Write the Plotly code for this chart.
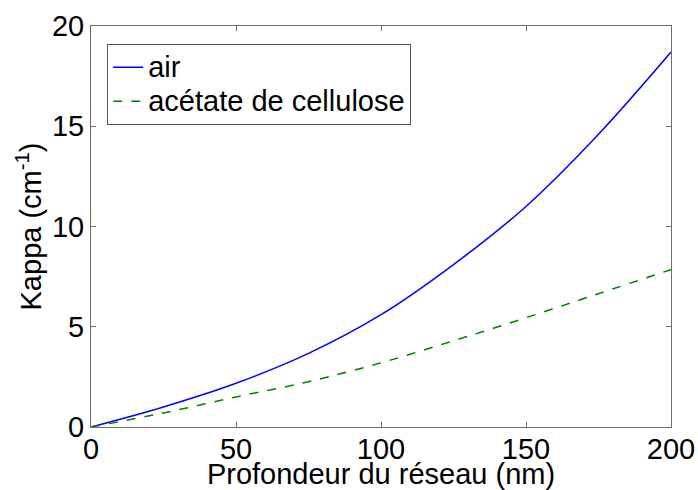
import plotly.graph_objects as go

# Grating depth (nm) and coupling coefficient kappa (cm^-1)
depth_nm = [0, 25, 50, 75, 100, 125, 150, 175, 200]
kappa_air = [0.0, 1.0, 2.18, 3.67, 5.6, 8.1, 11.0, 14.6, 18.7]
kappa_acetate = [0.0, 0.7, 1.5, 2.26, 3.2, 4.3, 5.45, 6.65, 7.85]

series_names = ["air", "acétate de cellulose"]
x_ticks = [0, 50, 100, 150, 200]
y_ticks = [0, 5, 10, 15, 20]

FONT = "Liberation Sans, Arial, sans-serif"


def legend_label(name):
    # bigger glyphs than the legend font so the rows stay tight like the original
    return '<span style="font-size:29px">' + name + '</span>'


fig = go.Figure()

fig.add_trace(go.Scatter(
    x=depth_nm, y=kappa_air, name=legend_label(series_names[0]), mode="lines",
    line=dict(color="#0000ff", width=1.5, shape="spline"),
))
fig.add_trace(go.Scatter(
    x=depth_nm, y=kappa_acetate, name=legend_label(series_names[1]), mode="lines",
    line=dict(color="#008000", width=1.5, dash="dash", shape="spline"),
))

axis_style = dict(
    showline=True, linecolor="#6e6e6e", linewidth=1, mirror="ticks",
    ticks="inside", ticklen=5, tickcolor="#6e6e6e",
    showgrid=False, zeroline=False, automargin=False,
    tickfont=dict(family=FONT, size=29, color="black"),
)

fig.update_layout(
    width=698, height=490,
    margin=dict(l=91, r=27, t=26, b=63),
    paper_bgcolor="white", plot_bgcolor="white",
    font=dict(family=FONT, size=29, color="black"),
    xaxis=dict(range=[0, 200], tickvals=x_ticks, ticklabelstandoff=-4,
               title=dict(text="Profondeur du réseau (nm)", standoff=0,
                          font=dict(family=FONT, size=29)),
               **axis_style),
    yaxis=dict(range=[0, 20], tickvals=y_ticks,
               title=dict(text="Kappa (cm<sup>-1</sup>)", standoff=1,
                          font=dict(family=FONT, size=29)),
               **axis_style),
    legend=dict(x=0.028, y=0.955, xanchor="left", yanchor="top",
                bordercolor="#555555", borderwidth=1, bgcolor="white",
                font=dict(family=FONT, size=24), itemwidth=30,
                tracegroupgap=0),
    showlegend=True,
)

# drop the default page margin so the figure sits at the window's corner
fig.write_html("out.html", config={"displayModeBar": False},
               post_script="document.body.style.margin='0';")
